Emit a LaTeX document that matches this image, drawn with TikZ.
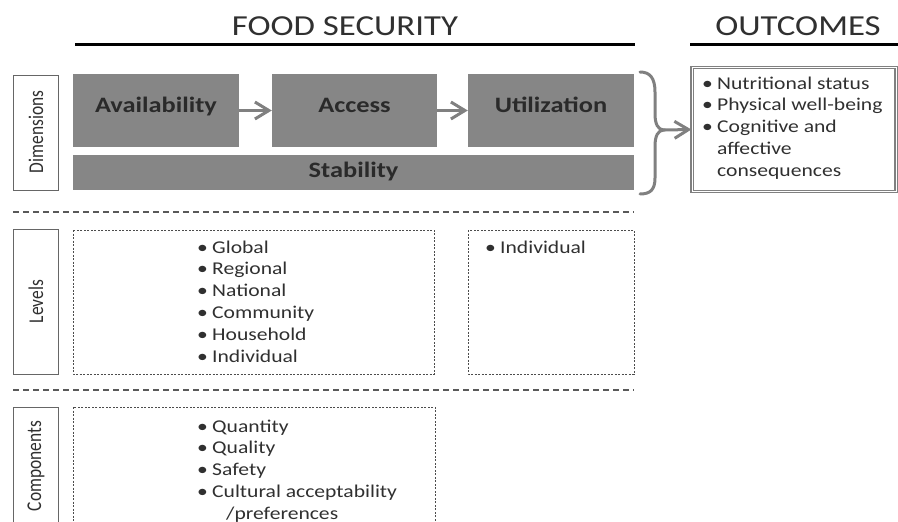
\documentclass[tikz,border=0pt]{standalone}
\usepackage{fontspec}
\setmainfont{Carlito}[FakeStretch=1.2]
\newfontfamily\rotfont{Carlito}[FakeStretch=0.83]
\usetikzlibrary{arrows.meta}
\definecolor{boxgray}{HTML}{868686}
\definecolor{boxtext}{HTML}{2A2A2A}
\definecolor{argray}{HTML}{808080}
\definecolor{txt}{HTML}{303030}
\newcommand{\bl}{\makebox[15pt][l]{\textbullet}}
\newcommand{\ind}{\hspace*{15pt}}
\tikzset{
  dimbox/.style={fill=boxgray, text=boxtext, inner sep=0pt,
    font=\bfseries\fontsize{22}{26}\selectfont, text height=10pt, text depth=7pt},
  garrow/.style={draw=argray, line width=3pt, -{Straight Barb[length=14pt,width=17pt]}},
  labbox/.style={draw=black!60, line width=1pt},
  rotlab/.style={rotate=90, font=\rotfont\fontsize{21}{24}\selectfont, text=txt, inner sep=0pt},
  dotbox/.style={draw=black!70, line width=0.8pt, dash pattern=on 2pt off 1.5pt},
  sepline/.style={draw=black!65, line width=1.3pt, dash pattern=on 6pt off 4pt},
  listtxt/.style={anchor=base west, inner sep=0pt, text=txt},
  title/.style={anchor=base, font=\fontsize{29}{32}\selectfont, text=txt, inner sep=0pt}
}
\newcommand{\lst}[1]{\parbox[t]{240pt}{\fontsize{18}{21.8}\selectfont\raggedright #1}}
\begin{document}
\begin{tikzpicture}[x=1pt,y=-1pt]
\useasboundingbox (0,0) rectangle (898,522);
\clip (0,0) rectangle (898,522);
% titles
\node[title] (fs) at (345,35) {FOOD SECURITY};
\node[title] (oc) at (798,35) {OUTCOMES};
\draw[line width=3pt] (75,44) -- (635,44);
\draw[line width=3pt] (690,44) -- (898,44);
% dimensions row
\draw[labbox] (13,75) rectangle (58,190);
\node[rotlab] (ldim) at (36,132) {Dimensions};
\node[dimbox, minimum width=166pt, minimum height=73pt] (avail) at (156,110.5) {Availability};
\node[dimbox, minimum width=165pt, minimum height=73pt] (access) at (354.5,110.5) {Access};
\node[dimbox, minimum width=166pt, minimum height=73pt] (util) at (551,110.5) {Utilization};
\node[dimbox, minimum width=561pt, minimum height=35pt, text height=14pt, text depth=5pt] (stab) at (353.5,172.5) {Stability};
\draw[garrow] (avail.east) -- (access.west);
\draw[garrow] (access.east) -- (util.west);
% brace
\coordinate (btop) at (640,72);
\coordinate (btip) at (664,130);
\coordinate (bbot) at (640,194);
\draw[argray, line width=3pt, line cap=round]
  (btop) .. controls (650,72) and (655,78) .. (655,92)
  -- (655,114) .. controls (655,124) and (658,130) .. (btip)
  .. controls (658,130) and (655,136) .. (655,146)
  -- (655,178) .. controls (655,190) and (650,194) .. (bbot);
\node[draw=argray, line width=1.2pt, double=white, double distance=1pt,
  minimum width=204pt, minimum height=124pt, inner sep=0pt] (outc) at (794,129.5) {};
\draw[garrow] (btip) -- (outc.west);
\node[listtxt] (outtxt) at (702,89) {\lst{\bl Nutritional status\\ \bl Physical well-being\\ \bl Cognitive and\\ \ind affective\\ \ind consequences}};
% separators
\draw[sepline] (13,212) -- (634,212);
\draw[sepline] (13,390) -- (634,390);
% levels
\draw[labbox] (13,229) rectangle (58,374);
\node[rotlab] (llev) at (36,301.5) {Levels};
\draw[dotbox] (73,230) rectangle (434,374);
\draw[dotbox] (468,230) rectangle (634,374);
\node[listtxt] (levtxt) at (197,253) {\lst{\bl Global\\ \bl Regional\\ \bl National\\ \bl Community\\ \bl Household\\ \bl Individual}};
\node[listtxt] (indtxt) at (485,253) {\lst{\bl Individual}};
% components
\draw[labbox] (13,407) rectangle (58,540);
\node[rotlab] (lcomp) at (36,466) {Components};
\draw[dotbox] (73,407) rectangle (435,540);
\node[listtxt] (comptxt) at (197,432) {\lst{\bl Quantity\\ \bl Quality\\ \bl Safety\\ \bl Cultural acceptability\\ \hspace*{29pt}/preferences}};
\end{tikzpicture}
\end{document}
